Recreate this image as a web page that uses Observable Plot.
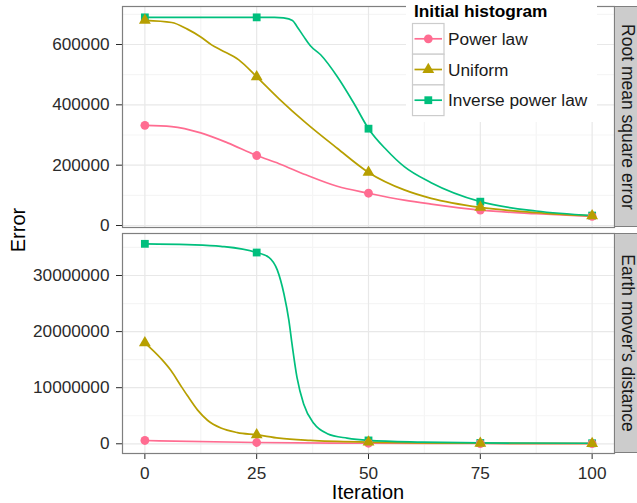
<!DOCTYPE html>
<html><head><meta charset="utf-8">
<script src="https://cdn.jsdelivr.net/npm/d3@7"></script>
<script src="https://cdn.jsdelivr.net/npm/@observablehq/plot@0.6"></script>
<style>
body{margin:0;background:#fff;}
#chart{position:relative;width:637px;height:503px;overflow:hidden;font-family:"Liberation Sans",Arial,sans-serif;background:#fff;}
#chart > svg{position:absolute;left:0;}
.strip{position:absolute;left:614px;width:25px;background:#cccccc;border:1px solid #7f7f7f;box-sizing:border-box;}
.strip span{position:absolute;left:50%;top:50%;transform:translate(-50%,-50%) rotate(90deg);white-space:nowrap;font-size:17.5px;line-height:1;color:#1a1a1a;}
.title{position:absolute;font-size:20px;line-height:1;color:#000;white-space:nowrap;}
</style></head><body><div id="chart"></div>
<script>
// ---- data ----
const series = ["Power law", "Uniform", "Inverse power law"];
const colors = ["#FF6C91", "#B79F00", "#00BF7D"];
const symbols = ["circle", "triangle", "square"];
const facets = ["Root mean square error", "Earth mover's distance"];

const markIter = [0, 25, 50, 75, 100];
const xTicks = [0, 25, 50, 75, 100];
const xMinor = [12.5, 37.5, 62.5, 87.5];

// Root mean square error: values at marked iterations
const rmsePower   = [332000, 232000, 107000, 51000, 30000];
const rmseUniform = [680000, 493000, 176000, 60000, 32000];
const rmseInverse = [690000, 690000, 321000, 79000, 33000];
// traced curve readings
const rmsePowerIter   = [0, 6, 12.5, 18.5, 25, 30, 36, 43, 50, 58, 64, 75, 87.5, 100];
const rmsePowerLine   = [332000, 328000, 307000, 274000, 232000, 205000, 168000, 130000, 107000, 84000, 71000, 51000, 39000, 30000];
const rmseUniformIter = [0, 6, 9.5, 12.5, 15, 17, 21, 25, 30, 36, 43, 50, 58, 64, 75, 87.5, 100];
const rmseUniformLine = [680000, 673000, 651000, 625000, 598000, 582000, 549000, 493000, 420000, 340000, 256000, 176000, 118000, 90000, 60000, 43000, 32000];
const rmseInverseIter = [0, 25, 29, 31, 33, 34, 35.5, 37, 39.3, 43, 46.7, 50, 54, 58, 64, 75, 87.5, 100];
const rmseInverseLine = [690000, 690000, 690000, 688000, 680000, 660000, 627000, 596000, 566000, 494000, 406000, 321000, 251000, 195000, 142000, 79000, 48000, 33000];
const rmseTicks = [0, 200000, 400000, 600000];
const rmseMinor = [100000, 300000, 500000, 700000];

// Earth mover's distance
const emdPower   = [590000, 230000, 100000, 50000, 30000];
const emdUniform = [18000000, 1600000, 300000, 100000, 50000];
const emdInverse = [35650000, 34100000, 600000, 150000, 100000];
const emdPowerIter   = [0, 25, 50, 75, 100];
const emdPowerLine   = [590000, 230000, 100000, 50000, 30000];
const emdUniformIter = [0, 3.6, 5.8, 8, 9.5, 11.8, 14, 17, 20.7, 25, 30, 37, 50, 75, 100];
const emdUniformLine = [18000000, 15200000, 13100000, 10400000, 8600000, 6000000, 4200000, 2800000, 2000000, 1600000, 1000000, 600000, 300000, 100000, 50000];
const emdInverseIter = [0, 9.5, 17, 25, 27.8, 29.6, 31.1, 32.2, 32.9, 34, 35.5, 37.8, 40.8, 45.2, 50, 62, 75, 100];
const emdInverseLine = [35650000, 35500000, 35200000, 34100000, 33200000, 31000000, 26700000, 22000000, 17800000, 11900000, 7100000, 3600000, 1800000, 1000000, 600000, 300000, 150000, 100000];
const emdTicks = [0, 10000000, 20000000, 30000000];
const emdMinor = [5000000, 15000000, 25000000, 35000000];

// ---- build ----
const rows = (iters, vals, s) => iters.map((x, i) => ({iteration: x, error: vals[i], series: s}));

const rmseLines = [
  ...rows(rmsePowerIter, rmsePowerLine, series[0]),
  ...rows(rmseUniformIter, rmseUniformLine, series[1]),
  ...rows(rmseInverseIter, rmseInverseLine, series[2])];
const rmseDots = [
  ...rows(markIter, rmseInverse, series[2]),
  ...rows(markIter, rmsePower, series[0]),
  ...rows(markIter, rmseUniform, series[1])];
const emdLines = [
  ...rows(emdPowerIter, emdPowerLine, series[0]),
  ...rows(emdUniformIter, emdUniformLine, series[1]),
  ...rows(emdInverseIter, emdInverseLine, series[2])];
const emdDots = [
  ...rows(markIter, emdInverse, series[2]),
  ...rows(markIter, emdPower, series[0]),
  ...rows(markIter, emdUniform, series[1])];

function panel({lines, dots, domain, ticks, minor, height, marginTop, marginBottom, showX}) {
  return Plot.plot({
    width: 637, height, marginLeft: 122, marginRight: 23, marginTop, marginBottom,
    style: {fontFamily: "'Liberation Sans', Arial, sans-serif", fontSize: "17.2px", color: "#2b2b2b", background: "transparent", overflow: "visible"},
    x: {domain: [-5, 105], ticks: showX ? xTicks : [], axis: showX ? "bottom" : null, tickSize: 6, tickPadding: 7, label: null},
    y: {domain, ticks, tickFormat: d3.format("d"), tickSize: 6, tickPadding: 7, label: null},
    color: {domain: series, range: colors},
    symbol: {domain: series, range: symbols},
    marks: [
      Plot.ruleX(xMinor, {stroke: "#f5f5f5", strokeWidth: 1.2}),
      Plot.ruleY(minor, {stroke: "#f5f5f5", strokeWidth: 1.2}),
      Plot.ruleX(xTicks, {stroke: "#e8e8e8", strokeWidth: 1.2}),
      Plot.ruleY(ticks, {stroke: "#e8e8e8", strokeWidth: 1.2}),
      Plot.line(lines, {x: "iteration", y: "error", z: "series", stroke: "series", curve: "monotone-x", strokeWidth: 1.7}),
      Plot.dot(dots, {x: "iteration", y: "error", fill: "series", symbol: "series", r: 4.4, stroke: "none"}),
      Plot.frame({stroke: "#7f7f7f", strokeWidth: 1.2})
    ]
  });
}

const chartEl = document.getElementById("chart");
const topPlot = panel({lines: rmseLines, dots: rmseDots, domain: [-6600, 726000], ticks: rmseTicks, minor: rmseMinor, height: 230, marginTop: 6, marginBottom: 3, showX: false});
topPlot.style.top = "0px";
chartEl.appendChild(topPlot);
const botPlot = panel({lines: emdLines, dots: emdDots, domain: [-1730000, 37490000], ticks: emdTicks, minor: emdMinor, height: 273, marginTop: 3, marginBottom: 50, showX: true});
botPlot.style.top = "230px";
chartEl.appendChild(botPlot);

// strips
[[6, 221], [233, 220]].forEach(([y, h], i) => {
  const d = document.createElement("div");
  d.className = "strip";
  d.style.top = y + "px"; d.style.height = h + "px";
  const s = document.createElement("span"); s.textContent = facets[i];
  d.appendChild(s); chartEl.appendChild(d);
});

// axis titles
const yTitle = document.createElement("div");
yTitle.className = "title"; yTitle.textContent = "Error";
yTitle.style.left = "18px"; yTitle.style.top = "230px";
yTitle.style.transform = "translate(-50%,-50%) rotate(-90deg)";
chartEl.appendChild(yTitle);
const xTitle = document.createElement("div");
xTitle.className = "title"; xTitle.textContent = "Iteration";
xTitle.style.left = "368px"; xTitle.style.top = "492px";
xTitle.style.transform = "translate(-50%,-50%)";
chartEl.appendChild(xTitle);

// legend
const lg = d3.select(chartEl).append("svg")
  .attr("width", 637).attr("height", 503)
  .style("top", "0px").style("pointer-events", "none")
  .style("font-family", "'Liberation Sans', Arial, sans-serif");
lg.append("rect").attr("x", 406).attr("y", 0).attr("width", 191).attr("height", 122).attr("fill", "#fff");
lg.append("text").attr("x", 414).attr("y", 17).attr("font-weight", "bold").attr("font-size", "17.3px").attr("fill", "#000").text("Initial histogram");
series.forEach((s, i) => {
  const y0 = 23.5 + i * 30.7, cy = y0 + 15.3;
  lg.append("rect").attr("x", 412.5).attr("y", y0).attr("width", 31.5).attr("height", 30.7)
    .attr("fill", "#fff").attr("stroke", "#cccccc").attr("stroke-width", 1.2);
  lg.append("line").attr("x1", 414.5).attr("x2", 442).attr("y1", cy).attr("y2", cy)
    .attr("stroke", colors[i]).attr("stroke-width", 1.7);
  const sym = [d3.symbolCircle, d3.symbolTriangle, d3.symbolSquare][i];
  lg.append("path").attr("d", d3.symbol(sym, Math.PI * 4.4 * 4.4)())
    .attr("transform", `translate(428.3,${cy})`).attr("fill", colors[i]);
  lg.append("text").attr("x", 448).attr("y", cy + 6.2).attr("font-size", "17.3px").attr("fill", "#1a1a1a").text(s);
});
</script></body></html>
